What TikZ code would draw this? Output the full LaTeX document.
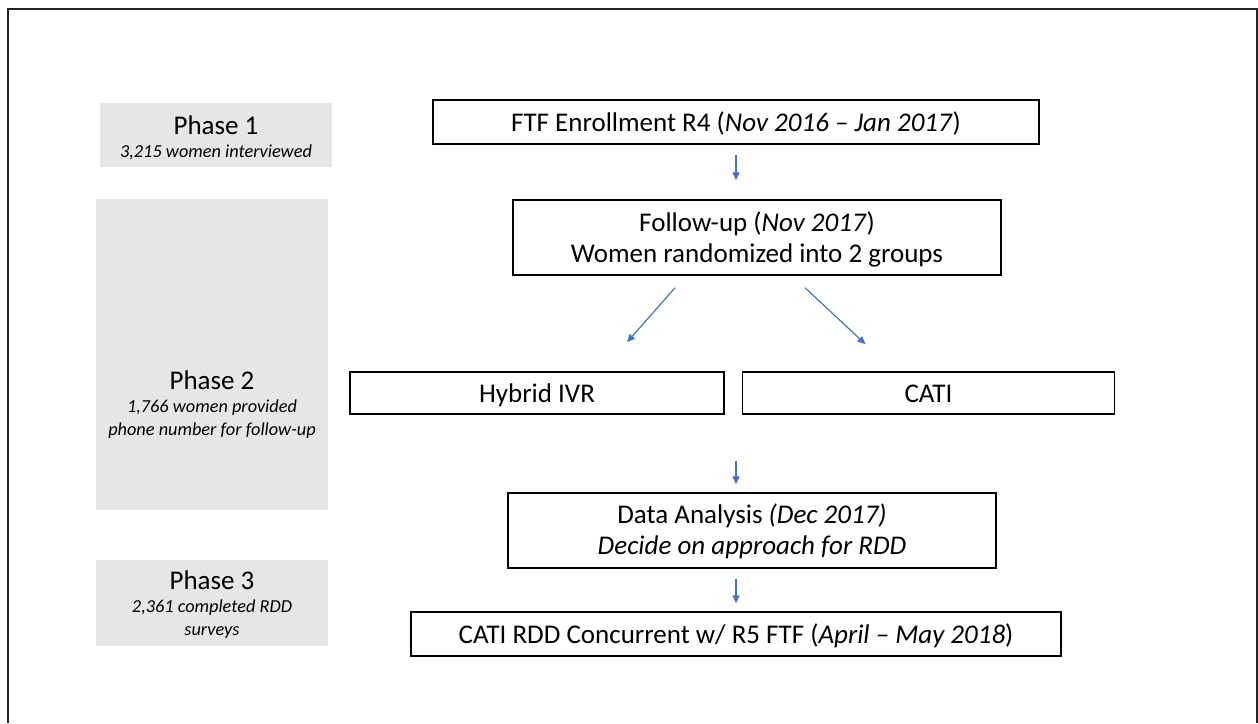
\documentclass[tikz,border=0pt]{standalone}
\usepackage{fontspec}
\setmainfont{Carlito}
\usetikzlibrary{positioning,arrows.meta,calc}
\definecolor{phasegray}{HTML}{E7E6E6}
\definecolor{flowblue}{HTML}{4472C4}
\tikzset{
  phase/.style={fill=phasegray, inner sep=0pt},
  phasetext/.style={align=center, inner sep=0pt, font=\fontsize{18.3}{23}\selectfont\itshape},
  stage/.style={draw=black, line width=1.5pt, align=center, inner sep=0pt, font=\fontsize{27}{31}\selectfont},
  oneline/.style={text height=22pt, text depth=3pt},
  flow/.style={draw=flowblue, line width=1.2pt, -{Triangle[length=8pt,width=7pt]}}
}
\newcommand{\PhaseName}[1]{{\fontsize{27}{26}\selectfont\upshape #1}}

\begin{document}
\begin{tikzpicture}[x=1pt,y=-1pt]
	  \useasboundingbox (0,0) rectangle (1258,723);
	  \draw[line width=1.5pt, black!85] (8,723) -- (8,9) -- (1257,9) -- (1257,723);

	  % Phases
	  \node[phase, minimum width=232, minimum height=64]  (P1) at (216,135)   {};
	  \node[phase, minimum width=232, minimum height=311] (P2) at (212,354.5) {};
	  \node[phase, minimum width=232, minimum height=86]  (P3) at (212,603)   {};
	  \node[phasetext] (P1t) at (216,138) {\PhaseName{Phase 1}\\3,215 women interviewed};
	  \node[phasetext] (P2t) at (212,405) {\PhaseName{Phase 2}\\1,766 women provided\\phone number for follow-up};
	  \node[phasetext] (P3t) at (212,605) {\PhaseName{Phase 3}\\2,361 completed RDD\\surveys};

	  % Define nodes
	  \node[stage, oneline, minimum width=606, minimum height=44] (FTF) at (736,122)
	    {FTF Enrollment R4 (\textit{Nov 2016 – Jan 2017})};
	  \node[stage, text depth=0pt, minimum width=488, minimum height=75] (Follow) at (757,237.5)
	    {Follow-up (\textit{Nov 2017})\\Women randomized into 2 groups};
	  \node[stage, oneline, minimum width=374, minimum height=42] (IVR) at (537,393) {Hybrid IVR};
	  \node[stage, oneline, minimum width=372, minimum height=42, right=17pt of IVR] (CATI) {CATI};
	  \node[stage, text depth=2pt, minimum width=488, minimum height=75] (Data) at (752,530.5)
	    {Data Analysis \textit{(Dec 2017)}\\\textit{Decide on approach for RDD}};
	  \node[stage, oneline, minimum width=650, minimum height=44] (RDD) at (736,634)
	    {CATI RDD Concurrent w/ R5 FTF (\textit{April – May 2018})};

	  % Connect the nodes
	  \draw[flow, shorten <=10pt, shorten >=19pt] (FTF.south) -- (FTF.south |- Follow.north);
	  \draw[flow] ($(Follow.south)+(-82,12)$) -- ($(IVR.north)+(90,-29)$);
	  \draw[flow] ($(Follow.south)+(48,12)$) -- ($(CATI.north)+(-63,-27)$);
	  \draw[flow, shorten <=46pt, shorten >=8pt] (IVR.south -| RDD.north) -- (Data.north -| RDD.north);
	  \draw[flow, shorten <=10pt, shorten >=8pt] (Data.south -| RDD.north) -- (RDD.north);
	\end{tikzpicture}
\end{document}
